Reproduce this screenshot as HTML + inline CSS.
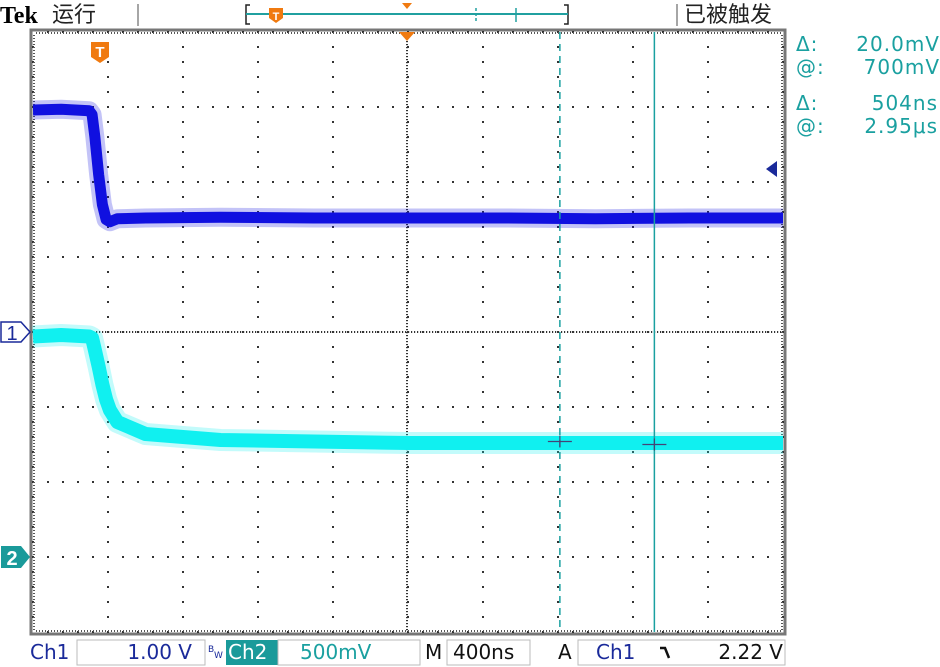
<!DOCTYPE html>
<html><head><meta charset="utf-8"><style>
body{margin:0;background:#fff;width:940px;height:667px;overflow:hidden;font-family:"Liberation Sans","Noto Sans CJK SC",sans-serif;}
svg{display:block}
</style></head><body>
<svg id="scope" width="940" height="667" viewBox="0 0 940 667">
<g id="topbar">
  <text x="0" y="23" font-family="Liberation Serif" font-weight="bold" font-size="24" fill="#000">Tek</text>
  <text x="52" y="22" font-size="22" fill="#222" font-family="Noto Sans CJK SC, sans-serif">运行</text>
  <line x1="138" y1="4" x2="138" y2="26" stroke="#888" stroke-width="1.5"/>
  <line x1="677" y1="4" x2="677" y2="26" stroke="#888" stroke-width="1.5"/>
  <g>
    <path d="M250,5 H246 V24 H250" fill="none" stroke="#222" stroke-width="1.5"/>
    <path d="M564,5 H568 V24 H564" fill="none" stroke="#222" stroke-width="1.5"/>
    <line x1="246" y1="14" x2="568" y2="14" stroke="#20a0a0" stroke-width="2"/>
    <line x1="476" y1="8" x2="476" y2="22" stroke="#20a0a0" stroke-width="1.5" stroke-dasharray="3,2"/>
    <line x1="516" y1="8" x2="516" y2="22" stroke="#20a0a0" stroke-width="1.5"/>
    <path d="M269,8 h14 v10 l-7,5 l-7,-5z" fill="#f07a10"/>
    <text x="276" y="20" font-size="11" font-weight="bold" fill="#fff" text-anchor="middle">T</text>
    <path d="M402,3 h10 l-5,6z" fill="#f07a10"/>
  </g>
  <text x="684" y="22" font-size="22" fill="#222" font-family="Noto Sans CJK SC, sans-serif">已被触发</text>
</g>
<g id="grid"></g>
<g id="traces"></g>
<g id="cursors"></g>
<g font-family="DejaVu Sans, sans-serif" font-size="20" fill="#1aa0a0" letter-spacing="1">
  <text x="796" y="51">Δ:</text><text x="940" y="51" text-anchor="end">20.0mV</text>
  <text x="796" y="74">@:</text><text x="940" y="74" text-anchor="end">700mV</text>
  <text x="796" y="110">Δ:</text><text x="938" y="110" text-anchor="end">504ns</text>
  <text x="796" y="133">@:</text><text x="938" y="133" text-anchor="end">2.95μs</text>
</g>
<g font-family="DejaVu Sans, sans-serif" font-size="20">
  <text x="30" y="659" fill="#1a2a9a">Ch1</text>
  <rect x="77" y="640" width="128" height="25" fill="none" stroke="#bbb"/>
  <text x="192" y="659" fill="#1a2a9a" text-anchor="end">1.00 V</text>
  <text x="208" y="652" font-size="9" fill="#1a2a9a">B</text><text x="214" y="658" font-size="9" fill="#1a2a9a">W</text>
  <rect x="226" y="640" width="52" height="25" fill="#1a9a9a"/>
  <text x="228" y="659" fill="#fff">Ch2</text>
  <rect x="278" y="640" width="142" height="25" fill="none" stroke="#bbb"/>
  <text x="300" y="659" fill="#1aa0a0">500mV</text>
  <text x="425" y="659" fill="#111">M</text>
  <rect x="447" y="640" width="83" height="25" fill="none" stroke="#bbb"/>
  <text x="453" y="659" fill="#111">400ns</text>
  <text x="558" y="659" fill="#111">A</text>
  <rect x="578" y="640" width="207" height="25" fill="none" stroke="#bbb"/>
  <text x="596" y="659" fill="#1a2a9a">Ch1</text>
  <path d="M660,648 h5 l4,10" fill="none" stroke="#111" stroke-width="2.5"/>
  <text x="783" y="659" fill="#111" text-anchor="end">2.22 V</text>
</g>
</svg>
<script>
// time in ns from left edge of screen (4000 ns full width)
const times = [0, 150, 300, 315, 330, 350, 370, 390, 410, 450, 600, 1000, 1500, 2000, 2500, 3000, 3500, 4000];
const ch1Volts = [2.96, 2.97, 2.95, 2.9, 2.6, 2.1, 1.7, 1.5, 1.47, 1.51, 1.52, 1.53, 1.52, 1.52, 1.52, 1.51, 1.52, 1.52];
const ch2Volts = [1.47, 1.48, 1.47, 1.46, 1.38, 1.27, 1.15, 1.05, 0.98, 0.9, 0.82, 0.78, 0.77, 0.76, 0.76, 0.76, 0.76, 0.76];
const cursorTimes = [2810, 3314];
const cursorCh2Volts = [0.77, 0.75];

const L=33,T=32,DIV=75,W=750,H=600;
const NS='http://www.w3.org/2000/svg';
const xOf=t=>L+t/4000*W;
const y1=v=>332 - v/1.0*DIV;
const y2=v=>557 - v/0.5*DIV;
function mk(tag,a,p){const e=document.createElementNS(NS,tag);for(const k in a)e.setAttribute(k,a[k]);p.appendChild(e);return e;}

const g=document.getElementById('grid');
mk('rect',{x:L-2,y:T-2,width:W+4,height:H+4,fill:'none',stroke:'#777','stroke-width':3},g);
for(let i=0;i<=10;i++){const x=L+i*DIV;
  for(let y=T+15;y<T+H;y+=15){mk('rect',{x:x-1,y:y-1,width:2,height:2,fill:'#333'},g);}
}
for(let j=0;j<=8;j++){const y=T+j*DIV;
  for(let x=L+15;x<L+W;x+=15){mk('rect',{x:x-1,y:y-1,width:2,height:2,fill:'#333'},g);}
}
for(let x=L+3;x<L+W;x+=3){mk('rect',{x:x,y:331,width:1.2,height:2,fill:'#333'},g);mk('rect',{x:x,y:T,width:1,height:2,fill:'#555'},g);mk('rect',{x:x,y:T+H-2,width:1,height:2,fill:'#555'},g);}
for(let y=T+3;y<T+H;y+=3){mk('rect',{x:406,y:y,width:2,height:1.2,fill:'#333'},g);mk('rect',{x:L,y:y,width:2,height:1,fill:'#555'},g);mk('rect',{x:L+W-2,y:y,width:2,height:1,fill:'#555'},g);}

const tr=document.getElementById('traces');
function trace(vals,yf,col,w,name){
  const pts=times.map((t,i)=>xOf(t)+','+yf(vals[i])).join(' ');
  const halo=mk('polyline',{points:pts,fill:'none',stroke:col,'stroke-width':w+8,'stroke-opacity':0.25,'stroke-linejoin':'round'},tr);
  
  
  const p=mk('polyline',{points:pts,fill:'none',stroke:col,'stroke-width':w,'stroke-linejoin':'round'},tr);
  
  
}
trace(ch1Volts,y1,'#1010e0',11,'ch1-trace');
trace(ch2Volts,y2,'#10f0f0',14,'ch2-trace');

const cu=document.getElementById('cursors');
cursorTimes.forEach((t,i)=>{const x=xOf(t);
  const l=mk('line',{x1:x,y1:T,x2:x,y2:T+H,stroke:'#1aa0a0','stroke-width':1.5},cu);
  if(i===0)l.setAttribute('stroke-dasharray','7,5');
  
  
  const yy=y2(cursorCh2Volts[i]);
  mk('line',{x1:x-12,y1:yy,x2:x+12,y2:yy,stroke:'#447','stroke-width':1.2},cu);
  mk('line',{x1:x,y1:yy-6,x2:x,y2:yy+6,stroke:'#447','stroke-width':1.2},cu);
});
const tm=mk('path',{d:'M91,42 h18 v15 l-9,6 l-9,-6z',fill:'#f07a10'},cu);


const tt=mk('text',{x:100,y:57,'font-size':15,'font-weight':'bold',fill:'#fff','text-anchor':'middle'},cu);tt.textContent='T';
mk('path',{d:'M399,32 h16 l-8,9z',fill:'#f07a10'},cu);
const m1=mk('path',{d:'M1,322 h20 l9,10 l-9,10 h-20z',fill:'#fff',stroke:'#1a2a9a','stroke-width':1.5},cu);


const t1=mk('text',{x:12,y:340,'font-size':20,fill:'#1a2a9a','text-anchor':'middle'},cu);t1.textContent='1';
const m2=mk('path',{d:'M1,546 h20 l9,11 l-9,11 h-20z',fill:'#1a9a9a'},cu);


const t2=mk('text',{x:12,y:565,'font-size':20,'font-weight':'bold',fill:'#fff','text-anchor':'middle'},cu);t2.textContent='2';
const tl=mk('path',{d:'M766,169 l11,-8 v16z',fill:'#1a2a9a'},cu);


</script>
</body></html>
